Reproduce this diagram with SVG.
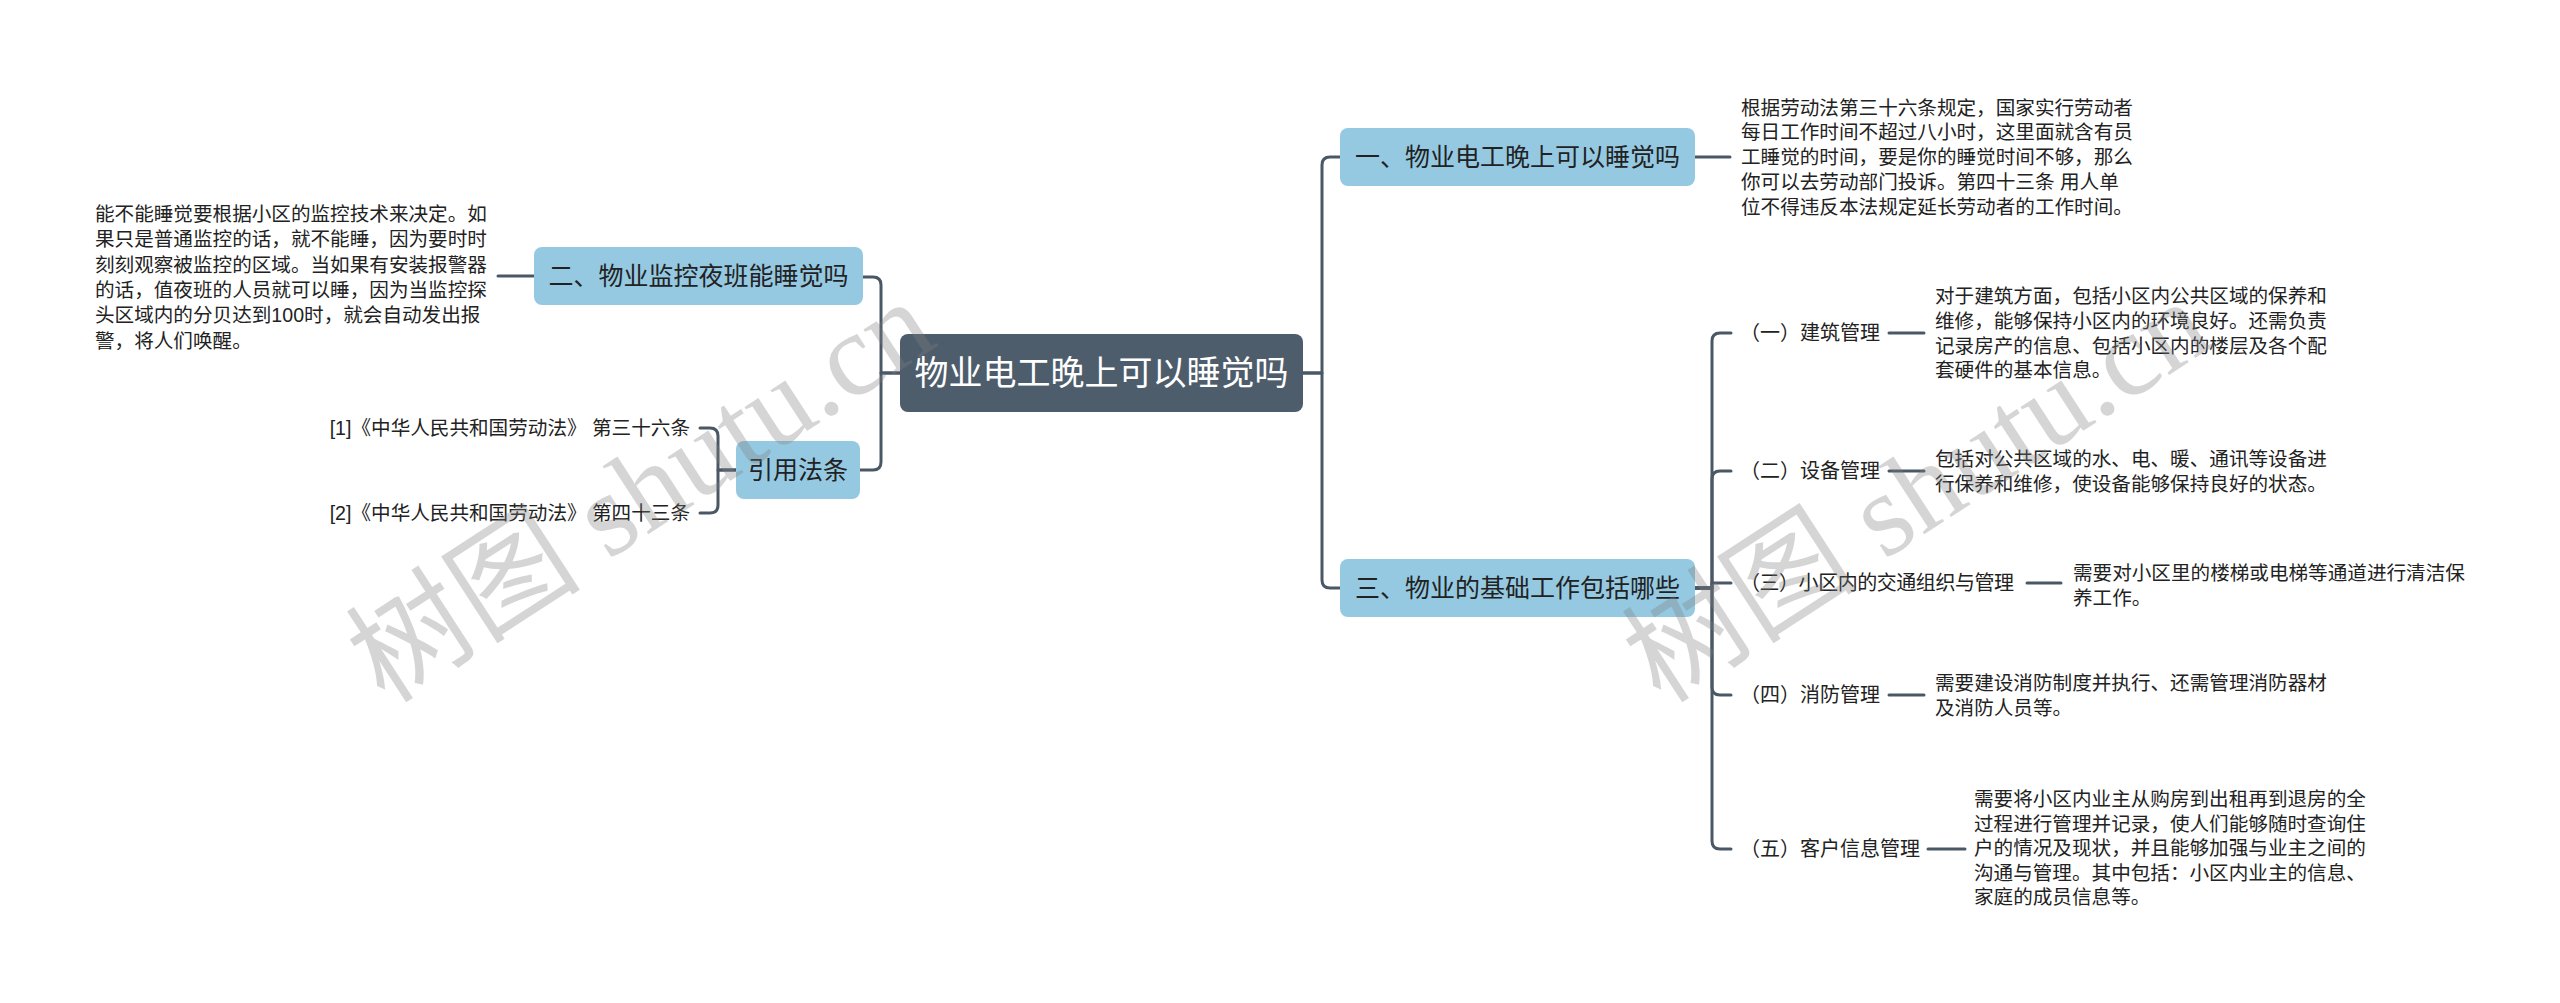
<svg xmlns="http://www.w3.org/2000/svg" width="2560" height="1003" viewBox="0 0 2560 1003">
<style>
text{font-family:"Liberation Sans","Noto Sans CJK SC",sans-serif;dominant-baseline:central}
.edge{fill:none;stroke:#4a5866;stroke-width:3;stroke-linecap:round;stroke-linejoin:round}
.root rect{fill:#4e5d6c}
.root text{fill:#ffffff;font-size:34px;text-anchor:middle}
.topic rect{fill:#95c9e2}
.topic text{fill:#222;font-size:25px;text-anchor:middle}
.t{fill:#222;font-size:19.6px}
.lbl{fill:#222;font-size:20px}
.wm{font-family:"Liberation Serif","Noto Sans CJK SC",serif;font-size:118px;fill:#808080;fill-opacity:0.33;dominant-baseline:alphabetic}
</style>
<rect width="2560" height="1003" fill="#ffffff"/>

<g id="connectors">
  <path class="edge" d="M900 373 H881 V285 Q881 277 873 277 H863"/>
  <path class="edge" d="M900 373 H881 V462 Q881 470 873 470 H860"/>
  <path class="edge" d="M534 276 H498"/>
  <path class="edge" d="M736 470 H718 V436 Q718 428 710 428 H700"/>
  <path class="edge" d="M736 470 H718 V505 Q718 513 710 513 H700"/>
  <path class="edge" d="M1303 373 H1322 V165 Q1322 157 1330 157 H1340"/>
  <path class="edge" d="M1303 373 H1322 V580 Q1322 588 1330 588 H1340"/>
  <path class="edge" d="M1695 157 H1730"/>
  <path class="edge" d="M1695 588 H1712 V341 Q1712 333 1720 333 H1731"/>
  <path class="edge" d="M1695 588 H1712 V479 Q1712 471 1720 471 H1731"/>
  <path class="edge" d="M1695 588 H1712 V583 H1731"/>
  <path class="edge" d="M1695 588 H1712 V687 Q1712 695 1720 695 H1731"/>
  <path class="edge" d="M1695 588 H1712 V841 Q1712 849 1720 849 H1731"/>
  <path class="edge" d="M1889 333 H1924"/>
  <path class="edge" d="M1889 471 H1924"/>
  <path class="edge" d="M2027 583 H2061"/>
  <path class="edge" d="M1889 695 H1924"/>
  <path class="edge" d="M1928 849 H1965"/>
</g>

<g id="root" class="root">
  <rect x="900" y="334" width="403" height="78" rx="8"/>
  <text x="1101.5" y="373">物业电工晚上可以睡觉吗</text>
</g>

<g id="topic2" class="topic">
  <rect x="534" y="247" width="329" height="58" rx="8"/>
  <text x="698.5" y="276">二、物业监控夜班能睡觉吗</text>
</g>
<g id="topic2-desc">
  <text class="t" x="95" y="214">能不能睡觉要根据小区的监控技术来决定。如<tspan x="95" dy="25.3">果只是普通监控的话，就不能睡，因为要时时</tspan><tspan x="95" dy="25.3">刻刻观察被监控的区域。当如果有安装报警器</tspan><tspan x="95" dy="25.3">的话，值夜班的人员就可以睡，因为当监控探</tspan><tspan x="95" dy="25.3">头区域内的分贝达到100时，就会自动发出报</tspan><tspan x="95" dy="25.3">警，将人们唤醒。</tspan></text>
</g>

<g id="refs" class="topic">
  <rect x="736" y="441" width="124" height="58" rx="8"/>
  <text x="798" y="470">引用法条</text>
</g>
<g id="ref1"><text class="t" x="690" y="428" text-anchor="end">[1]《中华人民共和国劳动法》 第三十六条</text></g>
<g id="ref2"><text class="t" x="690" y="513" text-anchor="end">[2]《中华人民共和国劳动法》 第四十三条</text></g>

<g id="topic1" class="topic">
  <rect x="1340" y="128" width="355" height="58" rx="8"/>
  <text x="1517.5" y="157">一、物业电工晚上可以睡觉吗</text>
</g>
<g id="topic1-desc">
  <text class="t" x="1741" y="107.5">根据劳动法第三十六条规定，国家实行劳动者<tspan x="1741" dy="24.8">每日工作时间不超过八小时，这里面就含有员</tspan><tspan x="1741" dy="24.8">工睡觉的时间，要是你的睡觉时间不够，那么</tspan><tspan x="1741" dy="24.8">你可以去劳动部门投诉。第四十三条 用人单</tspan><tspan x="1741" dy="24.8">位不得违反本法规定延长劳动者的工作时间。</tspan></text>
</g>

<g id="topic3" class="topic">
  <rect x="1340" y="559" width="355" height="58" rx="8"/>
  <text x="1517.5" y="588">三、物业的基础工作包括哪些</text>
</g>

<g id="sub1">
  <text class="lbl" x="1740" y="333">（一）建筑管理</text>
  <text class="t" x="1935" y="296">对于建筑方面，包括小区内公共区域的保养和<tspan x="1935" dy="24.8">维修，能够保持小区内的环境良好。还需负责</tspan><tspan x="1935" dy="24.8">记录房产的信息、包括小区内的楼层及各个配</tspan><tspan x="1935" dy="24.8">套硬件的基本信息。</tspan></text>
</g>
<g id="sub2">
  <text class="lbl" x="1740" y="471">（二）设备管理</text>
  <text class="t" x="1935" y="459">包括对公共区域的水、电、暖、通讯等设备进<tspan x="1935" dy="24.8">行保养和维修，使设备能够保持良好的状态。</tspan></text>
</g>
<g id="sub3">
  <text class="lbl" x="1740" y="583" textLength="274" lengthAdjust="spacing">（三）小区内的交通组织与管理</text>
  <text class="t" x="2073" y="573">需要对小区里的楼梯或电梯等通道进行清洁保<tspan x="2073" dy="24.8">养工作。</tspan></text>
</g>
<g id="sub4">
  <text class="lbl" x="1740" y="695">（四）消防管理</text>
  <text class="t" x="1935" y="683">需要建设消防制度并执行、还需管理消防器材<tspan x="1935" dy="24.8">及消防人员等。</tspan></text>
</g>
<g id="sub5">
  <text class="lbl" x="1740" y="849">（五）客户信息管理</text>
  <text class="t" x="1974" y="799">需要将小区内业主从购房到出租再到退房的全<tspan x="1974" dy="24.6">过程进行管理并记录，使人们能够随时查询住</tspan><tspan x="1974" dy="24.6">户的情况及现状，并且能够加强与业主之间的</tspan><tspan x="1974" dy="24.6">沟通与管理。其中包括：小区内业主的信息、</tspan><tspan x="1974" dy="24.6">家庭的成员信息等。</tspan></text>
</g>

<g id="watermarks">
  <text class="wm" x="385" y="705" transform="rotate(-33 385 705)">树图 shutu.cn</text>
  <text class="wm" x="1661" y="705" transform="rotate(-33 1661 705)">树图 shutu.cn</text>
</g>
</svg>
